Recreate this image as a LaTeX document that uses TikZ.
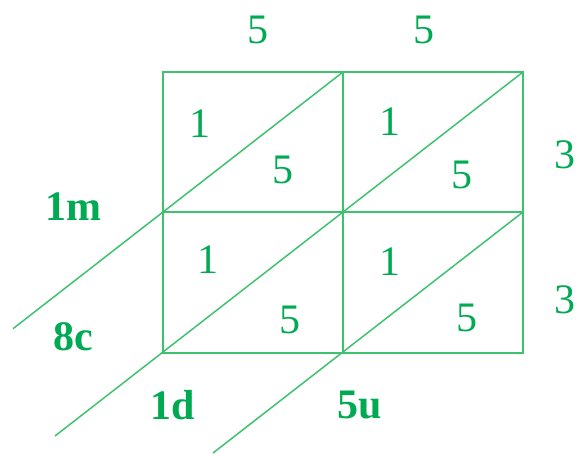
\documentclass[tikz,border=0pt]{standalone}
\usepackage{fontspec}
\setmainfont{Liberation Serif}
\definecolor{latline}{RGB}{62,194,112}
\definecolor{lattext}{RGB}{0,170,82}
\begin{document}
\begin{tikzpicture}[x=1pt,y=-1pt,font=\fontsize{42}{48}\selectfont,
  grid/.style={draw=latline,line width=1.5pt},
  digit/.style={text=lattext,inner sep=0pt},
  place/.style={digit,font=\fontsize{42}{48}\selectfont\bfseries}]
  \useasboundingbox (0,0) rectangle (577,453);
  % grid
  \coordinate (nw) at (163,72);
  \coordinate (se) at (523,353);
  \draw[grid] (nw) rectangle (se);
  \draw[grid] (343,72) -- (343,353);
  \draw[draw=latline,line width=2.8pt] (163,212) -- (523,212);
  % diagonals
  \draw[grid] (343,72) -- (13,328.7);
  \draw[grid] (523,72) -- (55,436);
  \draw[grid] (523,212) -- (213,453);
  % factors
  \node[digit] (t1) at (258,30) {5};
  \node[digit] (t2) at (424,30) {5};
  \node[digit] (r1) at (565,155) {3};
  \node[digit] (r2) at (565,300) {3};
  % cells
  \node[digit] (a1) at (200,124) {1};
  \node[digit] (a2) at (283,170) {5};
  \node[digit] (b1) at (390,122) {1};
  \node[digit] (b2) at (462,175) {5};
  \node[digit] (c1) at (208,260) {1};
  \node[digit] (c2) at (290,320) {5};
  \node[digit] (d1) at (390,262) {1};
  \node[digit] (d2) at (467,318) {5};
  % result
  \node[place] (m) at (73,207) {1m};
  \node[place] (c) at (73,337) {8c};
  \node[place] (d) at (173,405) {1d};
  \node[place] (u) at (360,405) {5u};
\end{tikzpicture}
\end{document}
